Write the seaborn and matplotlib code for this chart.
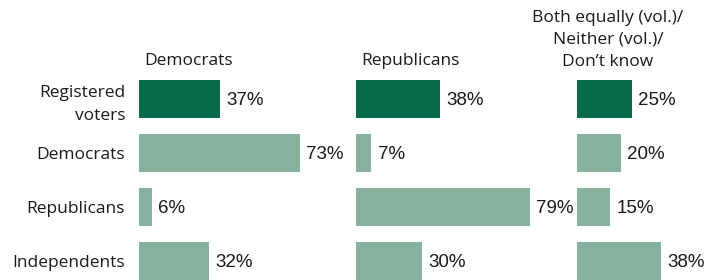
import pandas as pd
import numpy as np
import matplotlib.pyplot as plt
import seaborn as sns

# data
groups = ['Registered\nvoters', 'Democrats', 'Republicans', 'Independents']
panels = ['Democrats', 'Republicans', 'Both equally (vol.)/\nNeither (vol.)/\nDon\u2019t know']
dem_vals = [37, 73, 6, 32]
rep_vals = [38, 7, 79, 30]
both_vals = [25, 20, 15, 38]

dark = '#056b49'
light = '#87b39e'
text_col = '#1a1a1a'

sns.set_style('white')
plt.rcParams['font.family'] = ['Open Sans', 'DejaVu Sans']

W, H = 721, 280
fig = plt.figure(figsize=(W / 100, H / 100), dpi=100)

# left pixel of each panel's bar baseline; 2.2 px per percentage point
lefts = [139, 356, 577]
px_per = 2.2
xmax = 95
row0, row_step = 99, 54
ylim = ((H - row0) / row_step, -row0 / row_step)

colors = [dark, light, light, light]
all_vals = [dem_vals, rep_vals, both_vals]

for i, (left, vals) in enumerate(zip(lefts, all_vals)):
    ax = fig.add_axes([left / W, 0, xmax * px_per / W, 1])
    ax.patch.set_alpha(0)
    df = pd.DataFrame({'group': groups, 'value': vals})
    sns.barplot(data=df, x='value', y='group', hue='group', palette=colors,
                legend=False, width=0.72, saturation=1, linewidth=0, ax=ax)
    ax.set_xlim(0, xmax)
    ax.set_ylim(*ylim)
    ax.set_xticks([])
    ax.set_xlabel('')
    ax.set_ylabel('')
    sns.despine(ax=ax, left=True, bottom=True)
    if i == 0:
        ax.set_yticks(range(len(groups)))
        ax.set_yticklabels(groups, fontsize=12.5, color=text_col, linespacing=1.6)
        ax.tick_params(axis='y', length=0, pad=10)
    else:
        ax.set_yticks([])

    for j, v in enumerate(vals):
        ax.annotate(f'{v}%', (v, j), xytext=(4.5, -1), textcoords='offset points',
                    va='center', ha='left', fontsize=13.5, color=text_col,
                    family=['Liberation Sans', 'DejaVu Sans'])

    if i < 2:
        ax.text(2.3, -0.71, panels[i], ha='left', va='center', fontsize=12.5,
                color=text_col)
    else:
        ax.text((608 - left) / px_per, -1.1, panels[i], ha='center', va='center',
                fontsize=12.5, color=text_col, linespacing=1.5)

fig.savefig('out.png', dpi=100)
